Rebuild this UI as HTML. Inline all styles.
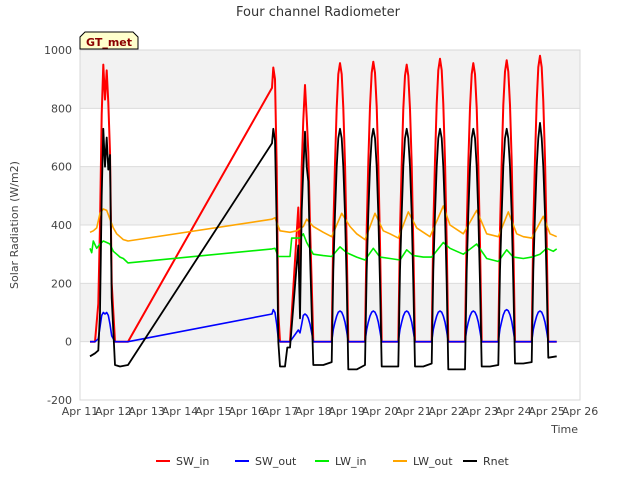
<!DOCTYPE html>
<html><head><meta charset="utf-8"><style>
body{margin:0;background:#fff;font-family:"Liberation Sans","DejaVu Sans",sans-serif}
svg text{font-family:"DejaVu Sans","Liberation Sans",sans-serif}
</style></head><body>
<svg id="chart" width="640" height="480" viewBox="0 0 640 480">
<text x="318" y="16" text-anchor="middle" font-size="13" fill="#333">Four channel Radiometer</text>
<g id="bands"></g><g id="grid"></g><g id="series"></g><g id="axes"></g>
<text transform="translate(18,225) rotate(-90)" text-anchor="middle" font-size="11" fill="#444">Solar Radiation (W/m2)</text>
<text x="578" y="433" text-anchor="end" font-size="11" fill="#444">Time</text>
<g>
<path d="M80,49 L80,37 L85,32 L133,32 L138,37 L138,49 Z" fill="#ffffcc" stroke="#000"/>
<text x="109" y="46" text-anchor="middle" font-size="11" font-weight="bold" fill="#8b0000">GT_met</text></g>
<g id="legend"></g>
</svg>
<script>
const yTicks=[-200,0,200,400,600,800,1000];
const xTickLabels=["Apr 11","Apr 12","Apr 13","Apr 14","Apr 15","Apr 16","Apr 17","Apr 18","Apr 19","Apr 20","Apr 21","Apr 22","Apr 23","Apr 24","Apr 25","Apr 26"];
const seriesNames=["SW_in","SW_out","LW_in","LW_out","Rnet"];
const seriesColors=["#ff0000","#0000ff","#00ee00","#ffa500","#000000"];
const swTimes=[0.3,0.45,0.55,0.6,0.65,0.7,0.75,0.8,0.85,0.9,0.95,1.05,1.2,1.44,
5.76,5.8,5.85,5.9,5.95,6.0,6.15,6.22,
6.3,6.55,6.6,6.65,6.7,6.75,6.8,6.85,6.9,6.95,7.0,7.05,
7.3,7.55,7.6,7.65,7.7,7.75,7.8,7.85,7.9,7.95,8.0,8.05,
8.3,8.55,8.6,8.65,8.7,8.75,8.8,8.85,8.9,8.95,9.0,9.05,
9.3,9.55,9.6,9.65,9.7,9.75,9.8,9.85,9.9,9.95,10.0,10.05,
10.3,10.55,10.6,10.65,10.7,10.75,10.8,10.85,10.9,10.95,11.0,11.05,
11.3,11.55,11.6,11.65,11.7,11.75,11.8,11.85,11.9,11.95,12.0,12.05,
12.3,12.55,12.6,12.65,12.7,12.75,12.8,12.85,12.9,12.95,13.0,13.05,
13.3,13.55,13.6,13.65,13.7,13.75,13.8,13.85,13.9,13.95,14.0,14.05,14.3];
const swIn=[0,0,130,400,780,950,830,930,820,650,200,0,0,0,
870,940,900,600,100,0,0,0,
0,460,250,600,760,880,770,650,400,200,0,0,
0,0,382,611,802,917,955,917,802,611,334,0,
0,0,384,614,806,922,960,922,806,614,336,0,
0,0,380,608,798,912,950,912,798,608,333,0,
0,0,388,621,815,931,970,931,815,621,340,0,
0,0,382,611,802,917,955,917,802,611,334,0,
0,0,386,618,811,926,965,926,811,618,338,0,
0,0,392,627,823,941,980,941,823,627,343,0,0];
const swOut=[0,0,10,50,90,100,95,100,90,60,20,0,0,0,
95,110,100,60,10,0,0,0,
0,40,30,60,90,95,90,80,60,30,0,0,
0,0,42,67,88,101,105,101,88,67,35,0,
0,0,42,67,88,101,105,101,88,67,35,0,
0,0,42,67,88,101,105,101,88,67,35,0,
0,0,42,67,88,101,105,101,88,67,35,0,
0,0,42,67,88,101,105,101,88,67,35,0,
0,0,44,70,92,106,110,106,92,70,37,0,
0,0,42,67,88,101,105,101,88,67,35,0,0];
const rnet=[-50,-40,-30,100,500,730,600,700,590,640,150,-80,-85,-80,
680,730,690,400,0,-85,-85,-20,
-20,330,80,450,590,720,600,550,300,100,-80,-80,
-80,-70,244,438,600,698,730,698,600,438,200,-95,
-95,-80,244,438,600,698,730,698,600,438,200,-85,
-85,-85,244,438,600,698,730,698,600,438,200,-85,
-85,-75,244,438,600,698,730,698,600,438,200,-95,
-95,-95,244,438,600,698,730,698,600,438,200,-85,
-85,-80,244,438,600,698,730,698,600,438,200,-75,
-75,-70,244,438,600,698,750,698,600,438,200,-55,-50];
const lwInTimes=[0.3,0.35,0.4,0.5,0.6,0.7,0.8,0.9,1.0,1.1,1.2,1.3,1.44,5.76,5.85,5.95,6.3,6.35,6.6,6.7,6.8,7.0,7.3,7.55,7.8,8.0,8.3,8.55,8.8,9.0,9.3,9.6,9.8,10.0,10.3,10.55,10.9,11.1,11.3,11.5,11.9,12.2,12.55,12.8,13.0,13.3,13.55,13.8,14.0,14.2,14.3];
const lwIn=[320,305,345,320,335,345,340,335,310,300,290,285,270,318,320,292,292,355,355,370,340,300,295,292,325,305,290,280,320,290,285,280,315,295,290,290,340,320,310,300,335,285,275,315,290,285,290,300,320,310,318];
const lwOutTimes=[0.3,0.4,0.5,0.6,0.7,0.8,0.9,1.0,1.1,1.2,1.3,1.44,5.76,5.85,6.0,6.3,6.5,6.7,6.8,7.0,7.3,7.55,7.85,8.1,8.3,8.55,8.85,9.1,9.3,9.55,9.85,10.1,10.3,10.5,10.9,11.1,11.3,11.5,11.9,12.2,12.55,12.85,13.1,13.3,13.55,13.9,14.1,14.3];
const lwOut=[375,380,390,440,455,450,420,390,370,360,350,345,420,425,380,375,380,395,420,395,375,360,440,395,370,350,440,380,370,355,445,390,375,360,465,400,385,370,450,370,360,445,370,360,355,430,370,360];

const L=80,R=580,T=50,B=400;
const xS=d=>L+d*(R-L)/15;
const yS=v=>B-(v+200)*(B-T)/1200;
const NS="http://www.w3.org/2000/svg";
function mk(tag,attrs,parent){const e=document.createElementNS(NS,tag);for(const k in attrs)e.setAttribute(k,attrs[k]);parent.appendChild(e);return e;}
const bands=document.getElementById('bands'),grid=document.getElementById('grid'),axes=document.getElementById('axes'),ser=document.getElementById('series'),leg=document.getElementById('legend');
for(let i=0;i<yTicks.length-1;i++){
  if(i%2===1){const r=mk('rect',{x:L,y:yS(yTicks[i+1]),width:R-L,height:yS(yTicks[i])-yS(yTicks[i+1]),fill:'#f2f2f2'},bands);
  
  }
}
yTicks.forEach(v=>{
  const ln=mk('line',{x1:L,x2:R,y1:yS(v),y2:yS(v),stroke:'#dcdcdc'},grid);
  
  
  const t=mk('text',{x:L-8,y:yS(v)+4,'text-anchor':'end','font-size':11,fill:'#444'},axes);t.textContent=v;
  
  
});
const fr=mk('rect',{x:L,y:T,width:R-L,height:B-T,fill:'none',stroke:'#d8d8d8'},axes);


xTickLabels.forEach((s,i)=>{
  const t=mk('text',{x:xS(i),y:415,'text-anchor':'middle','font-size':11,fill:'#444'},axes);t.textContent=s;
  
  
});
function draw(times,vals,color,name,w){
  const d=times.map((t,i)=>(i?'L':'M')+xS(t).toFixed(1)+','+yS(vals[i]).toFixed(1)).join('');
  const p=mk('path',{d:d,fill:'none',stroke:color,'stroke-width':w,'stroke-linejoin':'round'},ser);
  
  
}
draw(swTimes,swIn,seriesColors[0],'sw-in-line',2);
draw(swTimes,swOut,seriesColors[1],'sw-out-line',1.6);
draw(lwInTimes,lwIn,seriesColors[2],'lw-in-line',1.6);
draw(lwOutTimes,lwOut,seriesColors[3],'lw-out-line',1.6);
draw(swTimes,rnet,seriesColors[4],'rnet-line',1.8);
const legX=[156,235,315,393,463];
seriesNames.forEach((n,i)=>{
  const g=mk('g',{},leg);
  
  
  mk('line',{x1:legX[i],x2:legX[i]+14,y1:461,y2:461,stroke:seriesColors[i],'stroke-width':2},g);
  const t=mk('text',{x:legX[i]+20,y:465,'font-size':11,fill:'#333'},g);t.textContent=n;
});
</script>
</body></html>
